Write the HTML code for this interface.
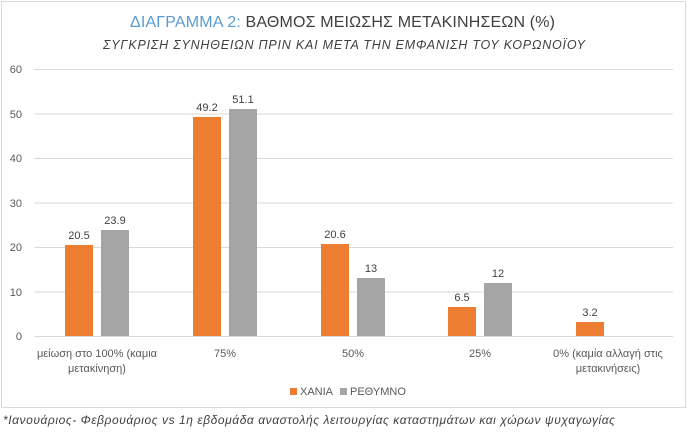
<!DOCTYPE html><html><head><meta charset="utf-8"><style>
body{margin:0;width:688px;height:431px;background:#fff;overflow:hidden;font-family:"Liberation Sans",sans-serif}
</style></head><body>
<svg width="688" height="431" xmlns="http://www.w3.org/2000/svg" font-family="Liberation Sans, sans-serif">
<rect x="1.5" y="1.5" width="684" height="406" fill="#fff" stroke="#d9d9d9"/>
<text x="130" y="27" font-size="16" fill="#404040" textLength="425"><tspan fill="#5b9bd5">ΔΙΑΓΡΑΜΜΑ 2:</tspan> ΒΑΘΜΟΣ ΜΕΙΩΣΗΣ ΜΕΤΑΚΙΝΗΣΕΩΝ (%)</text>
<text x="103" y="49" font-size="12.5" font-style="italic" fill="#404040" textLength="482">ΣΥΓΚΡΙΣΗ ΣΥΝΗΘΕΙΩΝ ΠΡΙΝ ΚΑΙ ΜΕΤΑ ΤΗΝ ΕΜΦΑΝΙΣΗ ΤΟΥ ΚΟΡΩΝΟΪΟΥ</text>
<g stroke="#d9d9d9" stroke-width="1">
<line x1="34" x2="673" y1="69.5" y2="69.5"/><line x1="34" x2="673" y1="114" y2="114"/><line x1="34" x2="673" y1="158.5" y2="158.5"/><line x1="34" x2="673" y1="203" y2="203"/><line x1="34" x2="673" y1="247.5" y2="247.5"/><line x1="34" x2="673" y1="292" y2="292"/><line x1="34" x2="673" y1="336.5" y2="336.5"/>
</g>
<g font-size="11" fill="#595959" text-anchor="end">
<text x="22" y="73">60</text><text x="22" y="118">50</text><text x="22" y="162">40</text><text x="22" y="207">30</text><text x="22" y="251">20</text><text x="22" y="296">10</text><text x="22" y="340">0</text>
</g>
<g fill="#ed7d31">
<rect x="65" y="245" width="28" height="91"/><rect x="193" y="117" width="28" height="219"/><rect x="321" y="244" width="28" height="92"/><rect x="448" y="307" width="28" height="29"/><rect x="576" y="322" width="28" height="14"/>
</g>
<g fill="#a5a5a5">
<rect x="101" y="230" width="28" height="106"/><rect x="229" y="109" width="28" height="227"/><rect x="357" y="278" width="28" height="58"/><rect x="484" y="283" width="28" height="53"/>
</g>
<g font-size="11" fill="#404040" text-anchor="middle">
<text x="79" y="239">20.5</text><text x="115" y="224">23.9</text>
<text x="207" y="111">49.2</text><text x="243" y="103">51.1</text>
<text x="335" y="238">20.6</text><text x="371" y="272">13</text>
<text x="462" y="301">6.5</text><text x="498" y="277">12</text>
<text x="590" y="316">3.2</text>
</g>
<g font-size="11" fill="#595959" text-anchor="middle">
<text x="97" y="357">μείωση στο 100% (καμια</text><text x="97" y="372">μετακίνηση)</text>
<text x="225" y="357">75%</text><text x="353" y="357">50%</text><text x="480" y="357">25%</text>
<text x="608" y="357">0% (καμία αλλαγή στις</text><text x="608" y="372">μετακινήσεις)</text>
</g>
<rect x="290" y="388" width="7" height="7" fill="#ed7d31"/><text x="300" y="395" font-size="11" fill="#595959">ΧΑΝΙΑ</text>
<rect x="340" y="388" width="7" height="7" fill="#a5a5a5"/><text x="350" y="395" font-size="11" fill="#595959">ΡΕΘΥΜΝΟ</text>
<text x="3" y="424" font-size="12" font-style="italic" fill="#404040" textLength="612">*Ιανουάριος- Φεβρουάριος vs 1η εβδομάδα αναστολής λειτουργίας καταστημάτων και χώρων ψυχαγωγίας</text>
</svg>
</body></html>
